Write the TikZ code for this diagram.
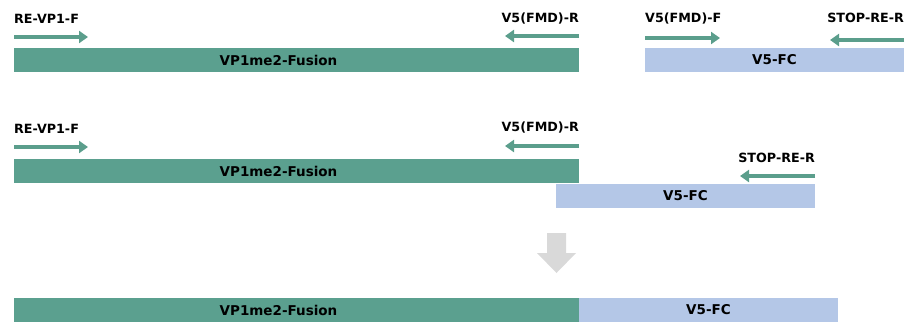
\documentclass[tikz,border=0pt]{standalone}
\usepackage{fontspec}
\setmainfont{DejaVu Sans}
\usetikzlibrary{arrows.meta}
\definecolor{barg}{HTML}{5BA08F}
\definecolor{barb}{HTML}{B4C7E7}
\definecolor{prim}{HTML}{5B9E8C}
\definecolor{grayarr}{HTML}{D9D9D9}
\tikzset{
  gbar/.style={fill=barg, draw=none, inner sep=0pt, outer sep=0pt, anchor=north west, minimum height=24pt},
  bbar/.style={fill=barb, draw=none, inner sep=0pt, outer sep=0pt, anchor=north west, minimum height=24pt},
  bartxt/.style={inner sep=0pt, font=\bfseries\fontsize{13.5}{13.5}\selectfont},
  lbl/.style={inner sep=0pt, font=\bfseries\fontsize{12.7}{12.7}\selectfont},
  primer/.style={draw=prim, line width=3.2pt, -{Triangle[length=9pt,width=12pt]}},
}
\begin{document}
\begin{tikzpicture}[x=1pt,y=-1pt]
\useasboundingbox (0,0) rectangle (912,322);
% Row 1
\node[gbar, minimum width=565pt] (g1) at (14,48) {};
\node[bartxt] (g1t) at ([xshift=-18pt]g1.center) {VP1me2-Fusion};
\node[bbar, minimum width=259pt] (b1) at (645,48) {};
\node[bartxt] (b1t) at (b1.center) {V5-FC};
\node[lbl, anchor=base west] (l1a) at (14,23) {RE-VP1-F};
\node[lbl, anchor=base east] (l1b) at (579,22) {V5(FMD)-R};
\node[lbl, anchor=base west] (l1c) at (645,22) {V5(FMD)-F};
\node[lbl, anchor=base east] (l1d) at (904,22) {STOP-RE-R};
\coordinate (p1as) at (14,37); \coordinate (p1ae) at (88,37);
\coordinate (p1bs) at (579,36); \coordinate (p1be) at (505,36);
\coordinate (p1cs) at (645,38); \coordinate (p1ce) at (720,38);
\coordinate (p1ds) at (904,40); \coordinate (p1de) at (830,40);
\draw[primer] (p1as) -- (p1ae);
\draw[primer] (p1bs) -- (p1be);
\draw[primer] (p1cs) -- (p1ce);
\draw[primer] (p1ds) -- (p1de);
% Row 2
\node[gbar, minimum width=565pt] (g2) at (14,159) {};
\node[bartxt] (g2t) at ([xshift=-18pt]g2.center) {VP1me2-Fusion};
\node[bbar, minimum width=259pt] (b2) at (556,184) {};
\node[bartxt] (b2t) at (b2.center) {V5-FC};
\node[lbl, anchor=base west] (l2a) at (14,133) {RE-VP1-F};
\node[lbl, anchor=base east] (l2b) at (579,131) {V5(FMD)-R};
\node[lbl, anchor=base east] (l2d) at (815,162) {STOP-RE-R};
\coordinate (p2as) at (14,147); \coordinate (p2ae) at (88,147);
\coordinate (p2bs) at (579,146); \coordinate (p2be) at (505,146);
\coordinate (p2ds) at (815,176); \coordinate (p2de) at (740,176);
\draw[primer] (p2as) -- (p2ae);
\draw[primer] (p2bs) -- (p2be);
\draw[primer] (p2ds) -- (p2de);
% Down arrow
\fill[grayarr] (547,233) -- (566,233) -- (566,253) -- (576,253) -- (556.5,273) -- (537,253) -- (547,253) -- cycle;
% Row 3
\node[gbar, minimum width=565pt] (g3) at (14,298) {};
\node[bartxt] (g3t) at ([xshift=-18pt]g3.center) {VP1me2-Fusion};
\node[bbar, minimum width=259pt] (b3) at (579,298) {};
\node[bartxt] (b3t) at (b3.center) {V5-FC};
\end{tikzpicture}
\end{document}
